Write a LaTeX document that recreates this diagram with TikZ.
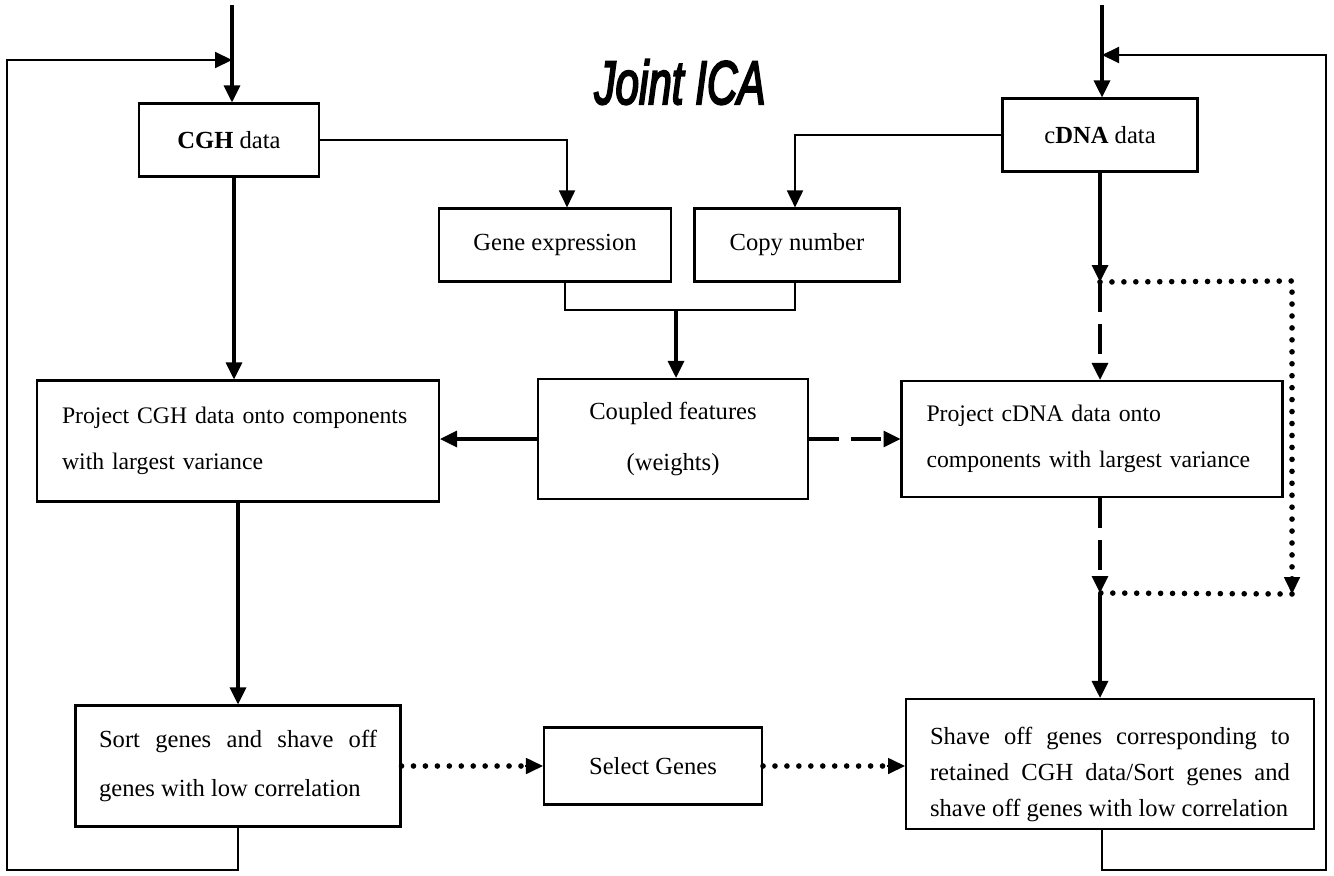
\documentclass[tikz,border=0pt]{standalone}
\usepackage{fontspec}
\setmainfont{Liberation Serif}
\newfontfamily\titlefont[FakeBold=4]{Liberation Sans}
\usepackage{tikz}
\usetikzlibrary{calc,arrows.meta,positioning}
\tikzstyle{box} = [draw, line width=1.2pt, rectangle, inner sep=0pt, font=\fontsize{14}{26}\selectfont]
\tikzstyle{arrow} = [line width=1.9pt,-{Triangle[length=0.34cm,width=0.32cm]}]
\tikzstyle{link} = [line width=1pt]
\tikzstyle{loopline} = [line width=1.2pt,-{Triangle[length=0.34cm,width=0.32cm]}]
\tikzstyle{dashline} = [line width=1.8pt,dash pattern=on 17pt off 6.8pt]
\tikzstyle{dotline} = [line width=3.2pt,line cap=round,dash pattern=on 0pt off 6.8pt]

\begin{document}
\begin{tikzpicture}[x=0.02cm,y=-0.02cm]
\useasboundingbox (0,0) rectangle (1334,875);
% title
\node (title) at (680,82) {\titlefont\itshape\fontsize{24}{24}\selectfont\scalebox{1}[1.45]{Joint ICA}};
% boxes
\node (cgh)[box,minimum width=3.6cm,minimum height=1.46cm] at (229,140) {\textbf{CGH} data};
\node (cdna)[box,minimum width=3.9cm,minimum height=1.46cm] at (1100,135) {c\textbf{DNA} data};
\node (gene)[box,minimum width=4.64cm,minimum height=1.46cm] at (555,245) {Gene expression};
\node (copy)[box,minimum width=4.1cm,minimum height=1.46cm] at (797,245) {Copy number};
\node (coupled)[box,minimum width=5.4cm,minimum height=2.4cm,align=center,font=\fontsize{14}{29}\selectfont] at (673,439) {Coupled features\\(weights)};
\node (pcgh)[box,minimum width=8.04cm,minimum height=2.42cm,text width=7.04cm,align=left,font=\fontsize{13.5}{26.5}\selectfont] at (238,441) {\mbox{Project CGH data onto components}\\\mbox{with largest variance}};
\node (pcdna)[box,minimum width=7.62cm,minimum height=2.32cm,text width=6.62cm,align=left,font=\fontsize{13.5}{26.5}\selectfont] at (1092,439) {\mbox{Project cDNA data onto}\\\mbox{components with largest variance}};
\node (sort)[box,minimum width=6.5cm,minimum height=2.42cm,text width=5.56cm,align=justify,font=\fontsize{14}{27.5}\selectfont] at (238,766) {Sort genes and shave off genes with low correlation};
\node (select)[box,minimum width=4.36cm,minimum height=1.54cm] at (653,766) {Select Genes};
\node (shave)[box,minimum width=8.16cm,minimum height=2.6cm] at (1110,764) {\raisebox{-0.33cm}[0pt][0pt]{\parbox{7.2cm}{\fontsize{14}{20.5}\selectfont Shave off genes corresponding to retained CGH data/Sort genes and shave off genes with low correlation}}};
% helper points
\coordinate (cghtop) at (232,5);
\coordinate (cghjoin) at (232,60);
\coordinate (lbot) at (7,870);
\coordinate (cdnatop) at (1102,5);
\coordinate (cdnajoin) at (1102,55);
\coordinate (rbot) at (1326,870);
\coordinate (join) at (676,310);
\coordinate (split) at (1100,282);
\coordinate (dtr) at (1292,281);
\coordinate (dbr) at (1292,594);
\coordinate (merge) at (1100,593);
% inputs and loops
\draw [arrow] (cghtop) -- (cghtop |- cgh.north);
\draw [arrow] (cdnatop) -- (cdnatop |- cdna.north);
\draw [loopline] (sort.south) |- (lbot) |- (cghjoin);
\draw [loopline] (shave.south -| cdnajoin) |- (rbot) |- (cdnajoin);
% coupling
\draw [link,-{Triangle[length=0.34cm,width=0.32cm]}] (cgh.east) -| ([xshift=0.24cm]gene.north);
\draw [link,-{Triangle[length=0.34cm,width=0.32cm]}] (cdna.west) -| ([xshift=-0.04cm]copy.north);
\draw [link] ([xshift=0.2cm]gene.south) |- (join) -| ([xshift=-0.04cm]copy.south);
\draw [arrow] (join) -- (join |- coupled.north);
\draw [arrow] (coupled.west) -- (coupled.west -| pcgh.east);
\draw [dashline,-{Triangle[length=0.34cm,width=0.32cm]}] (coupled.east) -- (coupled.east -| pcdna.west);
% CGH branch
\draw [arrow] ([xshift=0.1cm]cgh.south) -- ([xshift=0.1cm]cgh.south |- pcgh.north);
\draw [arrow] (pcgh.south) -- (sort.north);
% cDNA branch
\draw [arrow] (cdna.south) -- (split);
\draw [dashline,-{Triangle[length=0.34cm,width=0.32cm]}] (split) -- (split |- pcdna.north);
\draw [dashline,-{Triangle[length=0.34cm,width=0.32cm]}] (split |- pcdna.south) -- (merge);
\draw [dotline] (split) -- (dtr) -- ([yshift=0.3cm]dbr);
\draw [line width=1pt,-{Triangle[length=0.34cm,width=0.32cm]}] ([yshift=0.32cm]dbr) -- (dbr);
\draw [dotline] (dbr) -- (merge);
\draw [arrow] (merge) -- (merge |- shave.north);
% gene selection
\draw [dotline] (sort.east) -- ([xshift=-0.36cm]select.west);
\draw [line width=1pt,-{Triangle[length=0.34cm,width=0.32cm]}] ([xshift=-0.36cm]select.west) -- (select.west);
\draw [dotline] (select.east) -- ([xshift=-0.36cm]select.east -| shave.west);
\draw [line width=1pt,-{Triangle[length=0.34cm,width=0.32cm]}] ([xshift=-0.36cm]select.east -| shave.west) -- (select.east -| shave.west);
\end{tikzpicture}
\end{document}
